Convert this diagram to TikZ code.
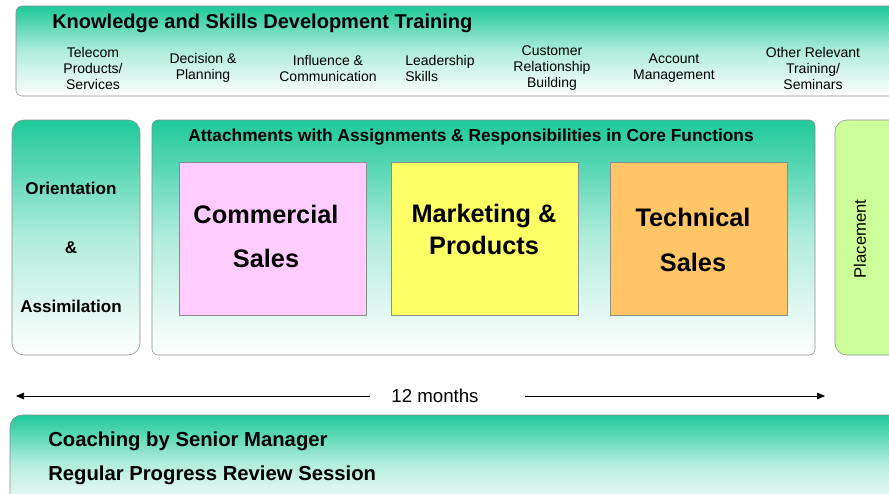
\documentclass[tikz,border=0pt]{standalone}
\usepackage{fontspec}
\setmainfont{Liberation Sans}
\usetikzlibrary{positioning,fit,arrows.meta}
\definecolor{tealgreen}{RGB}{30,201,153}
\definecolor{pinkbox}{RGB}{255,204,255}
\definecolor{yellowbox}{RGB}{255,255,102}
\definecolor{orangebox}{RGB}{255,197,102}
\definecolor{placebox}{RGB}{204,255,153}
\definecolor{edge}{RGB}{140,140,140}

\begin{document}
\begin{tikzpicture}[x=0.75pt,y=-0.75pt,
    gbox/.style={draw=edge,top color=tealgreen,bottom color=white,middle color=tealgreen!35!white,inner sep=0pt},
    cbox/.style={draw=edge,inner sep=0pt},
    head/.style={font=\fontsize{15}{18}\selectfont\bfseries,inner sep=0pt},
    sub/.style={font=\fontsize{10.5}{12}\selectfont,align=center},
    big/.style={font=\fontsize{19}{22}\selectfont\bfseries},
    side/.style={font=\fontsize{12.8}{15}\selectfont\bfseries},
    arr/.style={-{Triangle[length=6pt,width=5pt]},thin}]
    \useasboundingbox (0,0) rectangle (889,493);

    % training band
    \node[gbox,rounded corners=4.5pt,fit={(16,6) (900,96)}] (train) {};
    \node[head,anchor=west] (trainlbl) at (52,23) {Knowledge and Skills Development Training};
    \node[sub] (t1) at (93,68) {Telecom\\Products/\\Services};
    \node[sub] (t2) at (203,68) {Decision \&\\Planning};
    \node[sub] (t3) at (328,68) {Influence \&\\Communication};
    \node[sub,align=left] (t4) at (440,68) {Leadership\\Skills};
    \node[sub] (t5) at (552,68) {Customer\\Relationship\\Building};
    \node[sub] (t6) at (674,68) {Account\\Management};
    \node[sub] (t7) at (813,68) {Other Relevant\\Training/\\Seminars};

    % orientation
    \node[gbox,rounded corners=9pt,fit={(12,120) (140,355)}] (orient) {};
    \node[side] (o1) at (71,188) {Orientation};
    \node[side] (o2) at (71,248) {\&};
    \node[side] (o3) at (71,306) {Assimilation};

    % core functions
    \node[gbox,rounded corners=4.5pt,fit={(152,120) (815,355)}] (core) {};
    \node[side,font=\fontsize{13}{15}\selectfont\bfseries] (corelbl) at (471,137) {Attachments with Assignments \& Responsibilities in Core Functions};
    \node[cbox,fill=pinkbox,fit={(179,162) (366,315)}] (comm) {};
    \node[big] (c1) at (266,214) {Commercial};
    \node[big] (c2) at (266,258) {Sales};
    \node[cbox,fill=yellowbox,fit={(391,162) (578,315)}] (mark) {};
    \node[big] (m1) at (484,216) {Marketing \&};
    \node[big] (m2) at (484,245) {Products};
    \node[cbox,fill=orangebox,fit={(610,162) (787,315)}] (tech) {};
    \node[big] (s1) at (693,217) {Technical};
    \node[big] (s2) at (693,262) {Sales};

    % placement
    \node[cbox,fill=placebox,rounded corners=9pt,fit={(835,120) (910,355)}] (place) {};
    \node[font=\fontsize{12.5}{15}\selectfont,rotate=90] (placelbl) at (860,239) {Placement};

    % duration
    \node[font=\fontsize{14}{16}\selectfont] (months) at (435,396) {12 months};
    \coordinate (gl) at (370,396);
    \coordinate (gr) at (525,396);
    \coordinate (tl) at (16,396);
    \coordinate (tr) at (825,396);
    \draw[arr] (gl) -- (tl);
    \draw[arr] (gr) -- (tr);

    % coaching band
    \node[gbox,rounded corners=9pt,fit={(10,415) (910,510)}] (coach) {};
    \node[head,font=\fontsize{15.2}{18}\selectfont\bfseries,anchor=west] (k1) at (48,441) {Coaching by Senior Manager};
    \node[head,font=\fontsize{15.2}{18}\selectfont\bfseries,anchor=west] (k2) at (48,475) {Regular Progress Review Session};
\end{tikzpicture}
\end{document}
